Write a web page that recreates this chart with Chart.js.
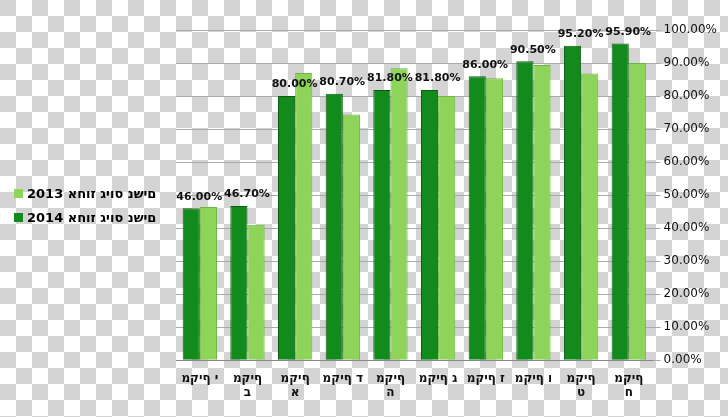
<!DOCTYPE html><html><head><meta charset="utf-8"><script src="https://cdn.jsdelivr.net/npm/chart.js@4"></script>
<style>body{margin:0;background-color:#fff;background-image:conic-gradient(#fff 25%,#d4d4d4 0 50%,#fff 0 75%,#d4d4d4 0);background-size:32px 32px}
#w{position:absolute;left:0;top:0;width:728px;height:417px}
.lg{position:absolute;left:14px;font:bold 13px "DejaVu Sans",sans-serif}
.lg span{display:inline-block;width:9px;height:9px;margin-right:4px}</style></head><body>
<div id="w"><canvas id="c" width="728" height="417"></canvas></div>
<div class="lg" style="top:186px"><span style="background:#8fd45a"></span><bdo dir="ltr">2013 אחוז גיוס נשים</bdo></div>
<div class="lg" style="top:210px"><span style="background:#138a1c"></span><bdo dir="ltr">2014 אחוז גיוס נשים</bdo></div>
<script>
const LRO='\u202D';
const categories=[["מקיף י"],["מקיף","ב"],["מקיף","א"],["מקיף ד"],["מקיף","ה"],["מקיף ג"],["מקיף ז"],["מקיף ו"],["מקיף","ט"],["מקיף","ח"]];
const s2014=[46.0,46.7,80.0,80.7,81.8,81.8,86.0,90.5,95.2,95.9];
const s2013=[46.4,41.0,87.0,74.4,88.4,80.0,85.4,89.4,86.8,90.0];
const labelPlugin={id:'lbl',afterDatasetsDraw(ch){const x=ch.ctx;const m=ch.getDatasetMeta(0);x.save();x.font='bold 11px "DejaVu Sans",sans-serif';x.fillStyle='#111';x.textAlign='center';x.textBaseline='bottom';
m.data.forEach((b,i)=>{x.fillText(s2014[i].toFixed(2)+'%',b.x+8,b.y-6)});x.restore();}};
new Chart(document.getElementById('c'),{type:'bar',data:{labels:categories.map(a=>a.map(s=>LRO+s)),datasets:[
{label:'2014',data:s2014,backgroundColor:'#138a1c',borderColor:'#0a5e10',borderWidth:1,barPercentage:1,categoryPercentage:0.72},
{label:'2013',data:s2013,backgroundColor:'#8fd45a',borderColor:'#6fb83d',borderWidth:1,barPercentage:1,categoryPercentage:0.72}]},
options:{responsive:false,animation:false,layout:{padding:{left:176,top:30,right:8,bottom:14}},
plugins:{legend:{display:false},tooltip:{enabled:false}},
scales:{x:{grid:{display:false},border:{color:'#888'},ticks:{color:'#111',font:{size:12,weight:'bold',family:'DejaVu Sans'},maxRotation:0,autoSkip:false}},
y:{position:'right',min:0,max:100,ticks:{stepSize:10,color:'#111',font:{size:12,family:'DejaVu Sans'},callback:v=>v.toFixed(2)+'%'},grid:{color:'#aaa'},border:{display:false}}}},plugins:[labelPlugin]});
</script></body></html>
